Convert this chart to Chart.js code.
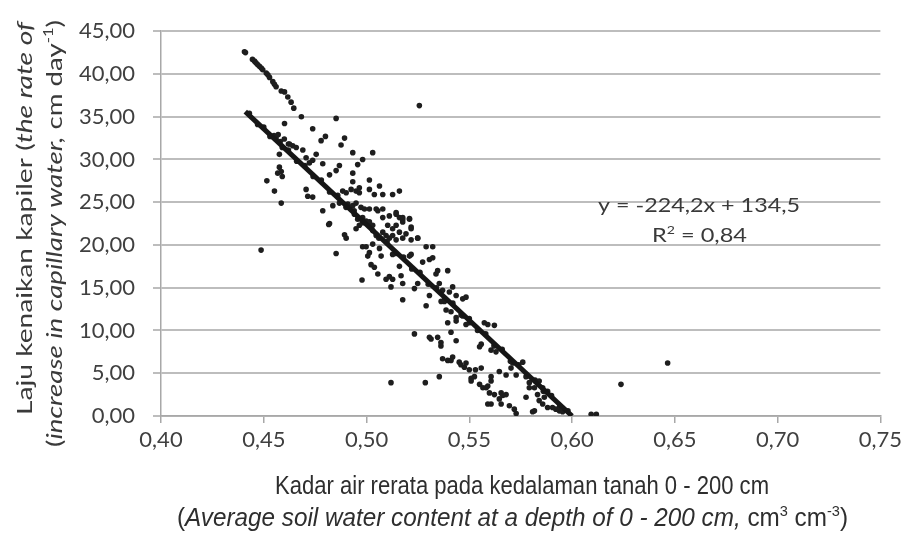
<!DOCTYPE html>
<html><head><meta charset="utf-8">
<script src="https://cdn.jsdelivr.net/npm/chart.js@4.4.1/dist/chart.umd.min.js"></script>
<style>html,body{margin:0;padding:0;background:#fff;}#wrap{width:906px;height:538px;}</style>
</head><body><div id="wrap"><canvas id="c" width="906" height="538"></canvas></div>
<script>
// ---- data ----
const pointX = [
  // upper band
  0.4406,0.4411,0.4445,0.4455,0.4462,0.4470,0.4479,0.4488,0.4495,0.4512,0.4520,0.4528,0.4544,0.4552,0.4560,0.4585,0.4601,0.4617,0.4633,0.4646,0.4683,
  // outliers
  0.4852,0.5257,0.4487,0.6238,0.6465,0.6093,0.6118,0.5119,0.5286,0.5354,0.5233,
  // upper-left cluster
  0.4601,0.4738,0.4779,0.4800,0.4893,0.4876,0.4933,0.5030,0.4981,0.4957,
  0.4576,0.4641,0.4690,0.4755,0.4576,0.4590,0.4568,0.4585,0.4515,0.4552,
  0.4585,0.4706,0.4714,0.4738,0.4787,0.4820,0.4852,0.4868,0.4933,0.4933,
  0.5014,0.5063,0.5014,0.4949,0.4965,0.5038,0.5079,0.5127,0.5160,0.4787,
  0.4836,0.4868,0.5014,0.5047,0.5079,0.5111,0.5144,0.5176,0.5209,0.4820,
  // middle
  0.4816,0.4852,0.4901,0.4893,0.4949,0.4981,0.4998,0.5030,0.5006,0.5014,
  0.5063,0.5071,0.5022,0.5038,0.5055,0.4978,0.5095,0.5111,0.5127,0.5119,
  0.5168,0.5176,0.5176,0.5160,0.5209,0.5217,0.5127,0.5290,0.5322,0.5249,
  0.5273,0.5306,0.5322,0.5346,0.5338,0.5395,0.5233,0.5249,0.5306,0.5290,
  0.5354,0.5370,0.5379,0.5387,0.5395,0.5306,0.5314,0.5346,0.5362,0.5362,
  0.5370,0.5395,
  // dense cluster
  0.4884,0.4901,0.4925,0.4965,0.4909,0.4933,0.4949,0.4973,0.4990,0.5055,
  0.4941,0.4957,0.4981,0.4998,0.4965,0.5014,0.5030,0.5079,0.5144,0.5160,
  0.5176,0.5209,0.5103,0.5127,0.5144,0.5160,0.5176,0.5217,0.5217,0.5030,
  0.5047,0.5079,0.5095,0.5111,0.5127,0.5144,0.5176,0.5192,0.5217,0.5249,
  // lower right
  0.5419,0.5403,0.5363,0.5436,0.5468,0.5484,0.5411,0.5436,0.5411,0.5436,
  0.5468,0.5484,0.5500,0.5573,0.5590,0.5622,0.5436,0.5558,0.5550,0.5606,
  0.5630,0.5419,0.5411,0.5451,0.5459,0.5476,0.5484,0.5500,0.5530,0.5558,
  0.5525,0.5509,0.5509,0.5550,0.5566,0.5582,0.5590,0.5606,0.5606,0.5646,
  0.5679,0.5703,0.5728,0.5598,0.5622,0.5655,0.5679,0.5646,0.5663,0.5590,
  0.5606,0.5655,0.5695,0.5719,0.5728,0.5808,0.5817,0.5760,0.5711,0.5776,
  0.5792,0.5817,0.5792,0.5776,0.5832,0.5840,0.5857,0.5865,0.5881,0.5905,
  0.5921,0.5938,0.5954,0.5840,0.5857,0.5881,
  // along the fitted line
  0.443,0.447,0.450,0.453,0.456,0.459,0.462,0.466,0.470,0.474,
  0.478,0.482,0.486,0.490,0.494,0.498,0.502,0.506,0.510,0.514,
  0.518,0.522,0.526,0.530,0.534,0.538,0.542,0.546,0.550,0.554,
  0.558,0.562,0.566,0.570,0.574,0.578,0.582,0.586,0.590,0.594,
  0.598,
  0.455,0.457,0.458,0.460,0.462,0.4706,0.4722,0.4738,0.4625,0.4658
];
const pointY = [
  42.6,42.5,41.7,41.5,41.3,41.1,40.9,40.7,40.5,40.1,39.9,39.6,39.1,38.8,38.5,38.0,37.9,37.3,36.7,36.0,35.0,
  34.8,36.3,19.4,3.7,6.2,0.2,0.2,3.9,3.9,4.6,9.6,
  34.2,33.6,32.2,32.7,32.5,31.7,30.8,30.8,30.0,29.4,
  30.6,31.6,31.1,30.6,29.1,28.0,28.4,28.6,27.5,26.3,
  24.9,26.5,25.7,25.6,29.5,28.2,28.7,29.3,28.4,27.4,
  27.6,26.9,26.5,26.3,26.1,25.9,25.9,25.9,26.3,24.0,
  24.6,24.9,24.2,24.2,24.2,23.4,23.8,23.2,23.1,22.5,
  22.4,19.0,20.8,21.2,21.9,19.8,19.8,20.1,18.7,19.1,
  19.6,18.7,17.7,17.4,16.6,15.9,16.0,16.3,16.0,15.1,
  16.4,15.5,13.6,17.5,18.7,18.9,18.9,19.8,19.8,20.8,
  18.0,18.3,18.5,17.0,16.6,17.0,14.9,15.5,14.1,12.9,
  15.5,14.7,13.4,12.4,10.9,9.2,9.0,9.2,8.6,8.2,
  6.7,6.5,
  26.3,26.1,26.5,26.7,24.8,24.6,24.9,24.4,24.2,24.0,
  23.6,23.0,23.2,22.8,22.3,22.7,22.3,23.2,23.6,23.2,
  23.0,23.0,22.3,21.9,22.3,21.5,22.7,22.1,21.9,21.7,
  21.1,21.5,21.1,20.8,21.1,20.6,20.8,21.3,20.6,20.8,
  15.1,14.5,13.4,14.1,13.7,13.9,12.2,11.5,9.8,11.1,
  11.7,10.7,10.9,10.9,10.7,10.6,8.8,8.4,8.1,7.7,
  7.5,6.9,6.5,6.3,6.0,5.7,6.2,5.4,5.4,5.6,
  4.6,4.4,4.1,3.7,3.3,3.3,3.5,4.1,4.6,5.2,
  4.8,5.6,4.8,2.7,2.5,2.7,2.5,2.0,2.4,1.4,
  1.4,1.4,1.2,0.8,0.3,0.5,0.6,6.3,6.2,4.6,
  3.9,3.3,3.3,2.2,2.5,1.8,1.4,2.2,1.0,1.0,
  0.8,0.6,0.5,4.1,3.3,2.9,
  35.4,34.1,33.8,32.7,32.5,31.4,31.1,29.8,29.3,28.0,
  27.6,26.2,25.8,24.4,24.0,22.6,22.2,20.8,20.4,19.0,
  18.6,17.2,16.8,15.4,15.0,13.6,13.2,11.8,11.4,10.0,
  9.6,8.2,7.8,6.4,6.0,4.7,4.2,2.9,2.4,1.1,
  0.6,
  32.8,32.9,32.1,32.4,31.8,30.2,29.6,29.9,31.8,31.4
];
const trendX = [0.441, 0.600];
const trendY = [35.6, 0.0];
const xTickLabels = ['0,40','0,45','0,50','0,55','0,60','0,65','0,70','0,75'];
const yTickLabels = ['0,00','5,00','10,00','15,00','20,00','25,00','30,00','35,00','40,00','45,00'];
const equationText = 'y = -224,2x + 134,5';
const r2Label = 'R';
const r2Sup = '2';
const r2Value = ' = 0,84';
const yTitle1 = [{t:'Laju kenaikan kapiler ('},{t:'the rate of',i:1}];
const yTitle2 = [{t:'('},{t:'increase in capillary water,',i:1},{t:' cm day'},{t:'-1',s:1},{t:')'}];
const xTitle1 = [{t:'Kadar air rerata pada kedalaman tanah 0 - 200 cm'}];
const xTitle2 = [{t:'('},{t:'Average soil water content at a depth of 0 - 200 cm,',i:1},{t:' cm'},{t:'3',s:1},{t:' cm'},{t:'-3',s:1},{t:')'}];

const scatterData = pointX.map((x,i)=>({x:x, y:pointY[i]}));
const trendData = trendX.map((x,i)=>({x:x, y:trendY[i]}));

function fontStr(seg, size, family){
  const sz = seg.s ? size*0.6 : size;
  return (seg.i ? 'italic ' : '') + sz.toFixed(2) + 'px ' + family;
}
// draws a line of mixed-style text at a fixed size, squeezed horizontally to the width seen in the picture
function drawRich(ctx, segs, family, size, targetW, x, y, rotate, color){
  let w = 0;
  segs.forEach(s=>{ ctx.font = fontStr(s, size, family); w += ctx.measureText(s.t).width; });
  const sx = targetW / w;
  ctx.save();
  ctx.translate(x, y);
  if (rotate) ctx.rotate(-Math.PI/2);
  ctx.scale(sx, 1);
  ctx.textBaseline = 'middle';
  ctx.textAlign = 'left';
  ctx.fillStyle = color || '#3a3a3a';
  let cx = 0;
  segs.forEach(s=>{
    ctx.font = fontStr(s, size, family);
    ctx.fillText(s.t, cx, s.s ? -size*0.28 : 0);
    cx += ctx.measureText(s.t).width;
  });
  ctx.restore();
}

const textPlugin = {
  id:'texts',
  afterDraw(chart){
    const ctx = chart.ctx;
    const arial = '"Liberation Sans", Arial, sans-serif';
    const cal = 'Lato, "Open Sans", sans-serif';
    drawRich(ctx, yTitle1, cal, 22, 393, 25, 415, true);
    drawRich(ctx, yTitle2, cal, 22, 427, 55, 447, true);
    drawRich(ctx, xTitle1, arial, 25, 494, 275, 487, false, '#2e2e2e');
    drawRich(ctx, xTitle2, arial, 25, 671, 177, 519, false, '#2e2e2e');
    drawRich(ctx, [{t:equationText}], cal, 20, 202, 598, 206, false);
    drawRich(ctx, [{t:r2Label},{t:r2Sup,s:1},{t:r2Value}], cal, 20, 95, 652, 236, false);
  }
};

new Chart(document.getElementById('c'), {
  type:'scatter',
  data:{ datasets:[
    { type:'line', data:trendData, borderColor:'#161616', borderWidth:5, pointRadius:0, fill:false, tension:0 },
    { data:scatterData, backgroundColor:'#1e1e1e', borderWidth:0, pointRadius:2.8, pointHoverRadius:2.8 }
  ]},
  options:{
    responsive:false, animation:false, devicePixelRatio:1,
    layout:{ padding:{ left:0, top:20, right:25, bottom:0 } },
    plugins:{ legend:{display:false}, tooltip:{enabled:false} },
    scales:{
      x:{ type:'linear', min:0.40, max:0.75,
        afterFit:(s)=>{ s.height = 122; },
        afterBuildTicks:(s)=>{ s.ticks = xTickLabels.map((l,i)=>({value: 0.40 + i*0.05})); },
        ticks:{ callback:(v,i)=>xTickLabels[i], font:{family:'Lato', size:22}, color:'#404040', padding:4, maxRotation:0, autoSkip:false },
        grid:{ drawOnChartArea:false, drawTicks:true, tickLength:7, color:'#a8a8a8', lineWidth:1.5 },
        border:{ color:'#a8a8a8', width:1.5 }
      },
      y:{ type:'linear', min:0, max:45,
        afterFit:(s)=>{ s.width = 161; },
        afterBuildTicks:(s)=>{ s.ticks = yTickLabels.map((l,i)=>({value: i*5})); },
        ticks:{ callback:(v,i)=>yTickLabels[i], font:{family:'Lato', size:22}, color:'#404040', padding:18 },
        grid:{ color:'#bdbdbd', lineWidth:2, tickLength:8 },
        border:{ color:'#a8a8a8', width:1.5 }
      }
    }
  },
  plugins:[textPlugin]
});
</script>
</body></html>
